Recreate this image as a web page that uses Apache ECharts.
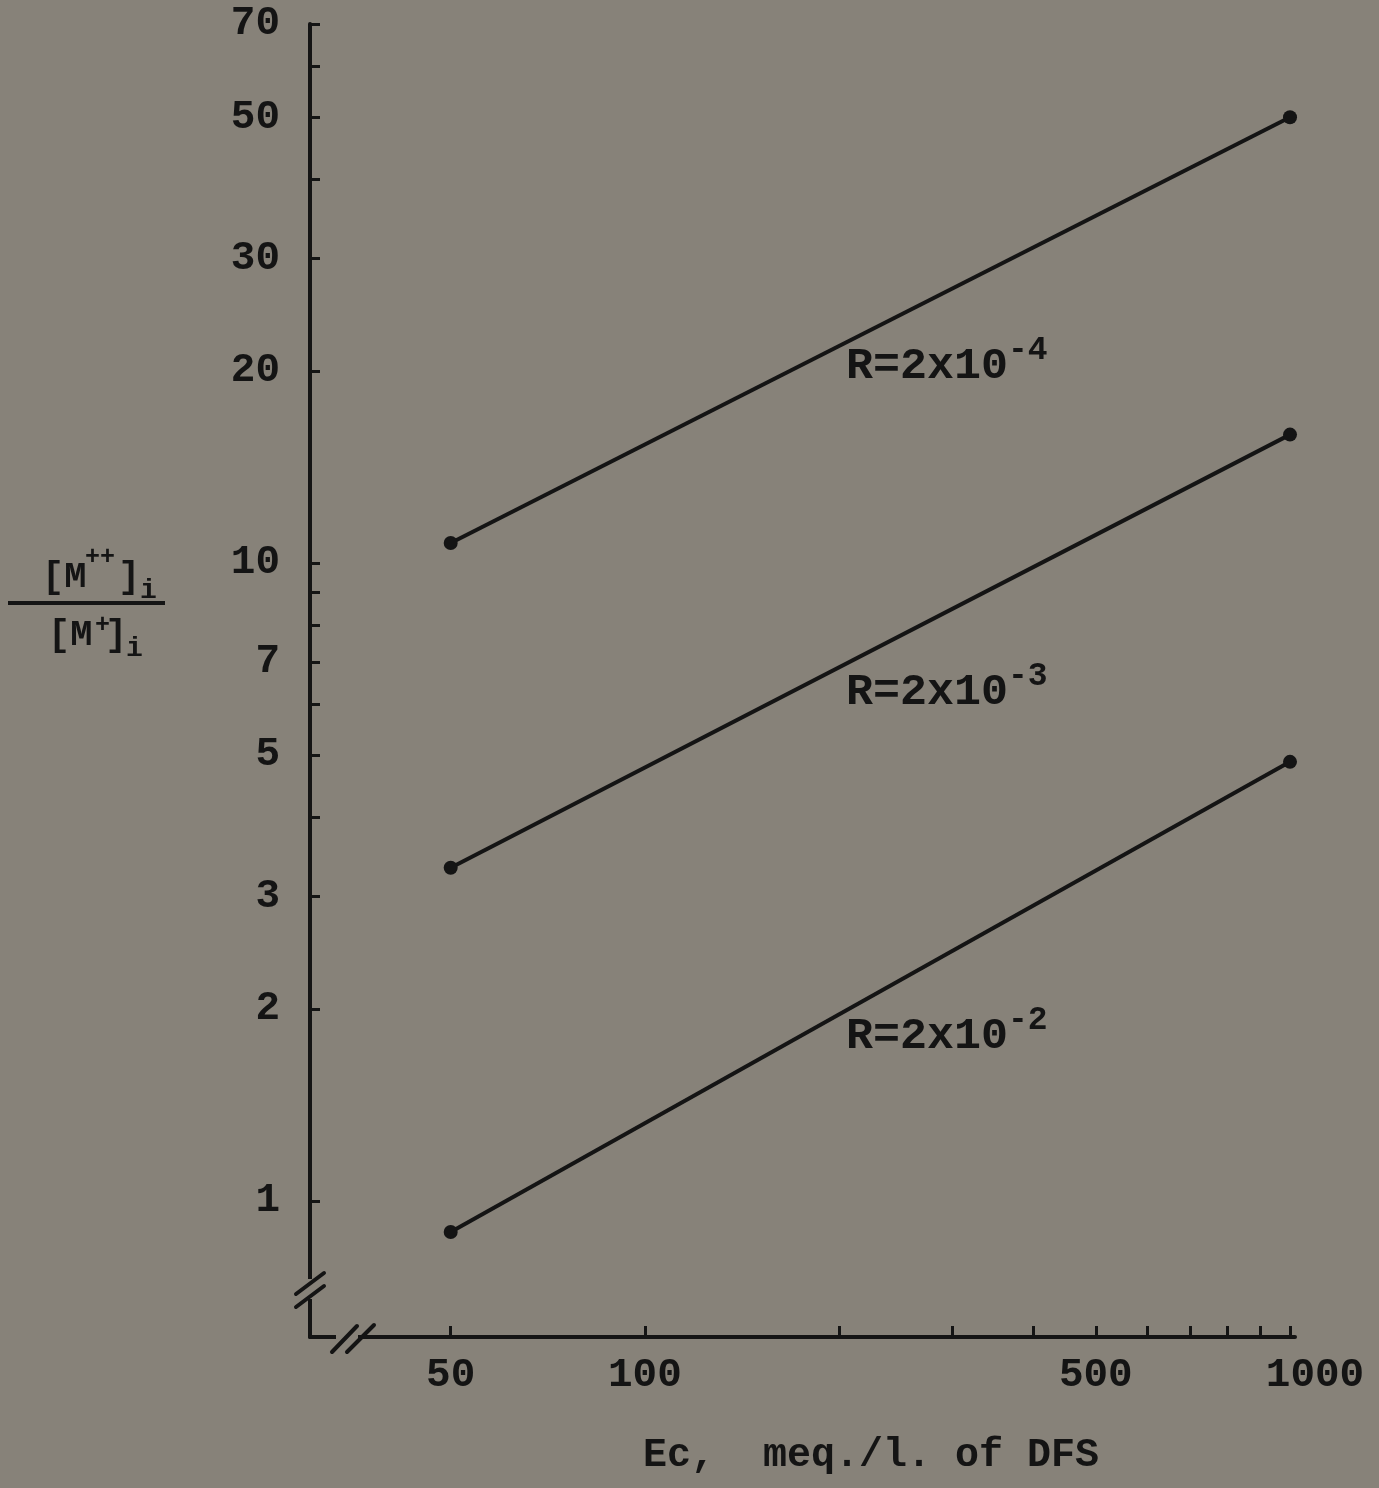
<!DOCTYPE html>
<html>
<head>
<meta charset="utf-8">
<script src="https://cdn.jsdelivr.net/npm/echarts@6/dist/echarts.min.js"></script>
<style>
  html, body { margin: 0; padding: 0; background: #878279; }
  #chart { width: 1379px; height: 1488px; }
</style>
</head>
<body>
<div id="chart"></div>
<script>
// Ion ratio vs. exchanger concentration (log-log)
const ecValues = [50, 1000];
const ratioR4 = [10.75, 50];   // R = 2x10^-4
const ratioR3 = [3.33, 15.9];  // R = 2x10^-3
const ratioR2 = [0.894, 4.88]; // R = 2x10^-2

const xTicks = [50, 100, 200, 300, 400, 500, 600, 700, 800, 900, 1000];
const xTickLabels = [50, 100, 500, 1000];
const yTicks = [1, 2, 3, 4, 5, 6, 7, 8, 9, 10, 20, 30, 40, 50, 60, 70];
const yTickLabels = [1, 2, 3, 5, 7, 10, 20, 30, 50, 70];

const BG = '#878279';
const INK = '#141414';
const FONT = '"Liberation Mono", "DejaVu Sans Mono", monospace';

function pairs(ys) {
  return ecValues.map((x, i) => [x, ys[i]]);
}

function lineSeries(ys) {
  return {
    type: 'line',
    data: pairs(ys),
    symbol: 'circle',
    symbolSize: 14,
    lineStyle: { color: INK, width: 4 },
    itemStyle: { color: INK },
    animation: false,
    silent: true
  };
}

// "R=2x10" with a raised exponent
function rLabel(left, top, exp) {
  return {
    type: 'group',
    left: left,
    top: top,
    children: [
      { type: 'text', x: 0, y: 10,
        style: { text: 'R=2x10', font: 'bold 45px ' + FONT, fill: INK } },
      { type: 'text', x: 162, y: 0,
        style: { text: '-' + exp, font: 'bold 33px ' + FONT, fill: INK } }
    ]
  };
}

const chart = echarts.init(document.getElementById('chart'), null, { renderer: 'canvas' });

chart.setOption({
  backgroundColor: BG,
  animation: false,
  grid: { left: 310, right: 84, top: 24, bottom: 151, containLabel: false },
  xAxis: {
    type: 'log',
    logBase: 10,
    min: 30.26,
    max: 1018,
    axisLine: { show: true, lineStyle: { color: INK, width: 4 } },
    axisTick: { show: true, inside: true, length: 11, customValues: xTicks,
                lineStyle: { color: INK, width: 3 } },
    axisLabel: {
      show: true, customValues: xTickLabels, margin: 18,
      fontFamily: FONT, fontSize: 41, fontWeight: 'bold', color: INK,
      // the last label sits a little right of its tick
      formatter: v => (v >= 1000 ? '{far|' + String(v) + '}' : String(v)),
      rich: { far: { padding: [0, 0, 0, 50], fontFamily: FONT, fontSize: 41,
                     fontWeight: 'bold', color: INK } }
    },
    minorTick: { show: false },
    splitLine: { show: false }
  },
  yAxis: {
    type: 'log',
    logBase: 10,
    min: 0.612,
    max: 70,
    axisLine: { show: true, lineStyle: { color: INK, width: 4 } },
    axisTick: { show: true, inside: true, length: 10, customValues: yTicks,
                lineStyle: { color: INK, width: 3 } },
    axisLabel: { show: true, customValues: yTickLabels, margin: 30,
                 formatter: v => String(v),
                 fontFamily: FONT, fontSize: 41, fontWeight: 'bold', color: INK },
    minorTick: { show: false },
    splitLine: { show: false }
  },
  series: [lineSeries(ratioR4), lineSeries(ratioR3), lineSeries(ratioR2)],
  graphic: [
    // axis break on the vertical axis
    { type: 'rect', shape: { x: 302, y: 1279, width: 16, height: 20 }, style: { fill: BG }, z: 100 },
    { type: 'line', shape: { x1: 296, y1: 1294, x2: 324, y2: 1273 },
      style: { stroke: INK, lineWidth: 4, lineCap: 'round' }, z: 101 },
    { type: 'line', shape: { x1: 296, y1: 1307, x2: 324, y2: 1286 },
      style: { stroke: INK, lineWidth: 4, lineCap: 'round' }, z: 101 },
    // axis break on the horizontal axis
    { type: 'rect', shape: { x: 336, y: 1330, width: 22, height: 14 }, style: { fill: BG }, z: 100 },
    { type: 'line', shape: { x1: 332, y1: 1352, x2: 357, y2: 1326 },
      style: { stroke: INK, lineWidth: 4, lineCap: 'round' }, z: 101 },
    { type: 'line', shape: { x1: 347, y1: 1352, x2: 374, y2: 1325 },
      style: { stroke: INK, lineWidth: 4, lineCap: 'round' }, z: 101 },

    // curve labels
    rLabel(846, 334, 4),
    rLabel(846, 660, 3),
    rLabel(846, 1004, 2),

    // horizontal axis title
    { type: 'text', left: 643, top: 1436,
      style: { text: 'Ec,  meq./l. of DFS', font: 'bold 40px ' + FONT, fill: INK } },

    // vertical axis title: [M++]i / [M+]i
    { type: 'group', left: 8, top: 545, children: [
      { type: 'text', x: 34, y: 14, style: { text: '[M', font: 'bold 37px ' + FONT, fill: INK } },
      { type: 'text', x: 77, y: 0, style: { text: '++', font: 'bold 25px ' + FONT, fill: INK } },
      { type: 'text', x: 110, y: 14, style: { text: ']', font: 'bold 37px ' + FONT, fill: INK } },
      { type: 'text', x: 132, y: 32, style: { text: 'i', font: 'bold 28px ' + FONT, fill: INK } },
      { type: 'rect', shape: { x: 0, y: 56, width: 157, height: 4 }, style: { fill: INK } },
      { type: 'text', x: 40, y: 72, style: { text: '[M', font: 'bold 37px ' + FONT, fill: INK } },
      { type: 'text', x: 87, y: 68, style: { text: '+', font: 'bold 25px ' + FONT, fill: INK } },
      { type: 'text', x: 97, y: 72, style: { text: ']', font: 'bold 37px ' + FONT, fill: INK } },
      { type: 'text', x: 118, y: 90, style: { text: 'i', font: 'bold 28px ' + FONT, fill: INK } }
    ]}
  ]
});
</script>
</body>
</html>
